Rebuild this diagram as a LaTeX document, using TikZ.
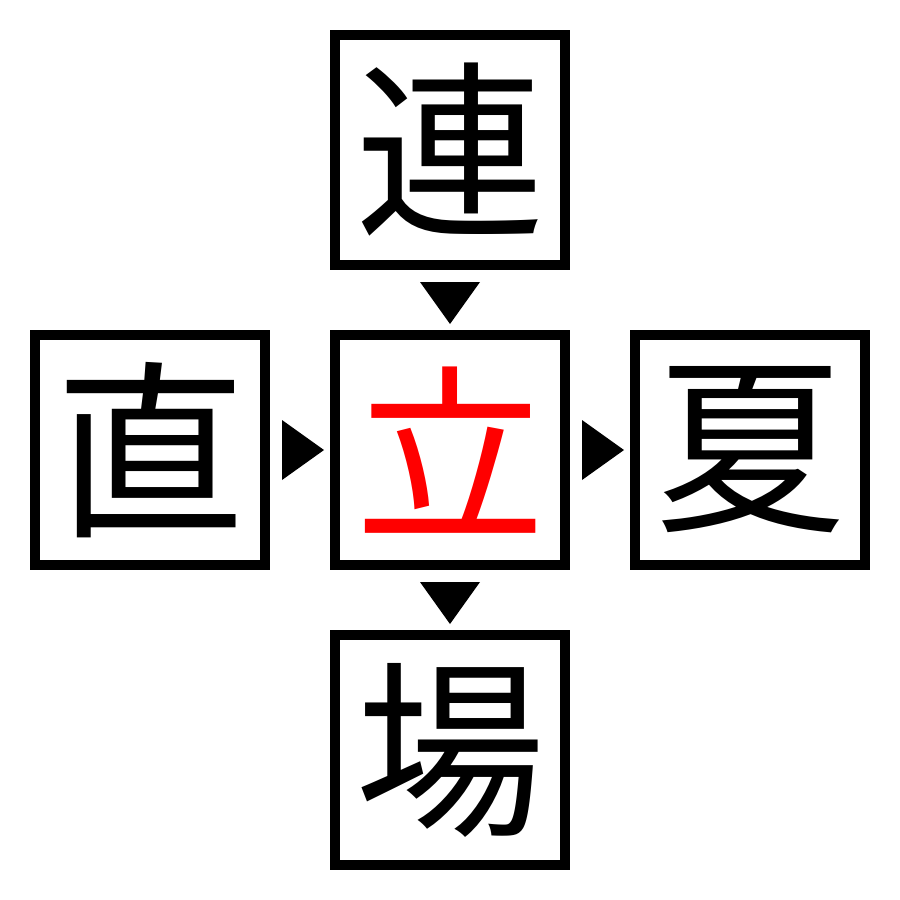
\documentclass[tikz,border=0pt]{standalone}
\usepackage{fontspec}
\newfontfamily\cjk{Noto Sans CJK JP}
\begin{document}
\begin{tikzpicture}[x=1pt,y=-1pt,
  kbox/.style={draw=black,line width=10pt,minimum width=230pt,minimum height=230pt,inner sep=0pt,font=\cjk\fontsize{190}{190}\selectfont},
  tri/.style={fill=black,draw=none}]
\useasboundingbox (0,0) rectangle (900,900);
\node[kbox] (top) at (450,150) {連};
\node[kbox] (left) at (150,450) {直};
\node[kbox,text=red] (mid) at (450,450) {立};
\node[kbox] (right) at (750,450) {夏};
\node[kbox] (bot) at (450,750) {場};
\coordinate (a1) at (450,303);
\coordinate (a2) at (450,603);
\coordinate (a3) at (303,450);
\coordinate (a4) at (603,450);
\fill[tri] ([shift={(-30,-21)}]a1) -- ([shift={(30,-21)}]a1) -- ([shift={(0,21)}]a1) -- cycle;
\fill[tri] ([shift={(-30,-21)}]a2) -- ([shift={(30,-21)}]a2) -- ([shift={(0,21)}]a2) -- cycle;
\fill[tri] ([shift={(-21,-30)}]a3) -- ([shift={(-21,30)}]a3) -- ([shift={(21,0)}]a3) -- cycle;
\fill[tri] ([shift={(-21,-30)}]a4) -- ([shift={(-21,30)}]a4) -- ([shift={(21,0)}]a4) -- cycle;
\end{tikzpicture}
\end{document}
